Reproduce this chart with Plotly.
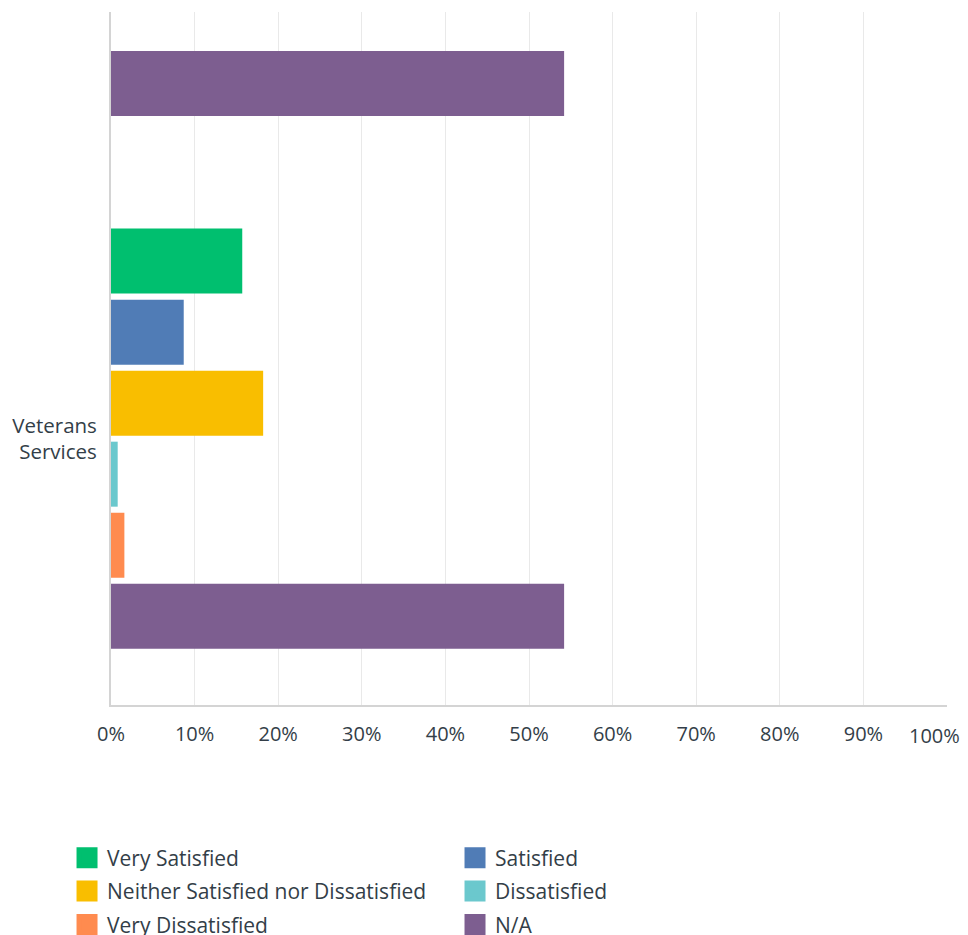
import plotly.graph_objects as go

# ---- data ----
categories = [" ", "Veterans<br>Services"]   # first category is the (cut-off) previous item
series_names = ["Very Satisfied", "Satisfied", "Neither Satisfied nor Dissatisfied",
                "Dissatisfied", "Very Dissatisfied", "N/A"]
series_colors = ["#00bf6f", "#507cb6", "#f9be00", "#6bc8cd", "#ff8b4f", "#7d5e90"]
# values in percent, one list per series: [previous item, Veterans Services]
very_satisfied = [None, 15.7]
satisfied = [None, 8.7]
neither = [None, 18.2]
dissatisfied = [None, 0.8]
very_dissatisfied = [None, 1.6]
na = [54.2, 54.2]
series_values = [very_satisfied, satisfied, neither, dissatisfied, very_dissatisfied, na]
x_tick_vals = [0, 10, 20, 30, 40, 50, 60, 70, 80, 90, 100]
x_tick_text = [f"{v}%" for v in x_tick_vals]
legend_columns = ["legend", "legend2", "legend", "legend2", "legend", "legend2"]

FONT = "Open Sans"
TEXT = "#333e48"

fig = go.Figure()
for name, color, vals in zip(series_names, series_colors, series_values):
    fig.add_trace(go.Bar(
        y=categories, x=vals, name=name, orientation="h",
        marker=dict(color=color, line=dict(width=0)),
        showlegend=False,
    ))
# legend entries (larger swatches), two columns
for name, color, lg in zip(series_names, series_colors, legend_columns):
    fig.add_trace(go.Scatter(
        x=[None], y=[None], mode="markers", name=name, legendgroup=name,
        legend=lg,
        marker=dict(symbol="square", size=16, color=color,
                    line=dict(color=color, width=5)),
        showlegend=True, hoverinfo="skip",
    ))

legend_common = dict(
    orientation="v", xref="paper", yref="container",
    xanchor="left", yanchor="top", y=0.105,
    font=dict(family=FONT, size=21, color=TEXT),
    itemsizing="trace", traceorder="grouped", tracegroupgap=3,
    bgcolor="rgba(0,0,0,0)",
)

# last tick label is pulled inward so it stays inside the chart (as in the original)
tick_text_shown = x_tick_text[:-1] + [""]
fig.add_annotation(
    x=x_tick_vals[-1], y=0, xref="x", yref="paper",
    text=x_tick_text[-1], showarrow=False,
    xanchor="center", yanchor="top", xshift=-13, yshift=-15,
    font=dict(family=FONT, size=20, color=TEXT),
)

fig.update_layout(
    width=960, height=927,
    margin=dict(l=103, r=21, t=4, b=230, autoexpand=False),
    paper_bgcolor="white", plot_bgcolor="white",
    barmode="group", bargap=0.2, bargroupgap=0.085,
    font=dict(family=FONT, size=20, color=TEXT),
    showlegend=True,
    legend=dict(x=-0.0526, **legend_common),
    legend2=dict(x=0.4115, **legend_common),
    xaxis=dict(
        range=[0, 100], tickvals=x_tick_vals, ticktext=tick_text_shown,
        showgrid=True, gridcolor="#e9e9e9", gridwidth=1,
        showline=True, linecolor="#d4d4d4", linewidth=2,
        zeroline=False, ticks="", ticklabelstandoff=10,
        tickfont=dict(family=FONT, size=20, color=TEXT), fixedrange=True,
    ),
    yaxis=dict(
        type="category", categoryorder="array", categoryarray=categories,
        range=[1.5, 0.199],
        showgrid=False, showline=True, linecolor="#d4d4d4", linewidth=2,
        zeroline=False, ticks="", ticklabelstandoff=8,
        tickfont=dict(family=FONT, size=20.5, color=TEXT), fixedrange=True,
    ),
)

fig.write_html("out.html")
